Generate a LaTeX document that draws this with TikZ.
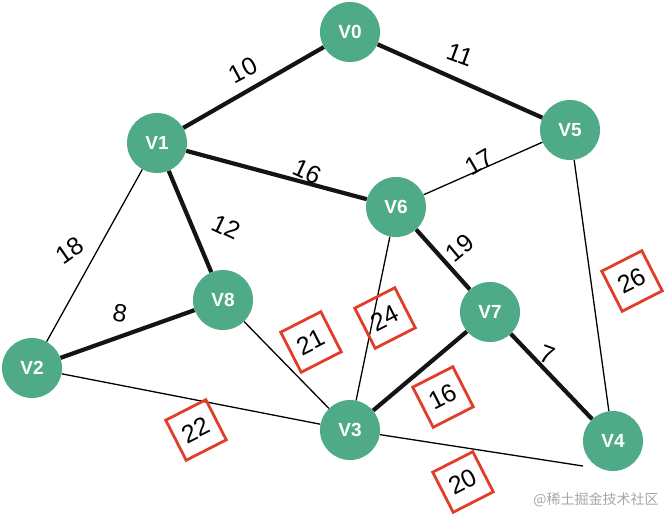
\documentclass[tikz,border=0pt]{standalone}
\usepackage{fontspec}
\usetikzlibrary{backgrounds}
\setmainfont{Liberation Sans}
\newfontfamily\cjkfont{Noto Sans CJK SC}
\definecolor{vgreen}{RGB}{78,170,135}
\definecolor{boxred}{RGB}{224,62,42}
\tikzset{
  vtx/.style={circle, fill=vgreen, minimum size=60pt, inner sep=0pt, text=white, font=\fontsize{19}{19}\selectfont\bfseries},
  thickedge/.style={line width=4.2pt, black!92},
  thinedge/.style={line width=1.3pt, black},
  wlabel/.style={font=\fontsize{25}{25}\selectfont, inner sep=0pt},
  wbox/.style={draw=boxred, line width=2.8pt, minimum size=45pt, inner sep=0pt, rotate=27, font=\fontsize{25}{25}\selectfont}
}
\begin{document}
\begin{tikzpicture}[x=1pt,y=-1pt]
\useasboundingbox (0,0) rectangle (671,523);
\node[vtx] (V0) at (350,32) {V0};
\node[vtx] (V1) at (157,143) {V1};
\node[vtx] (V5) at (570,130) {V5};
\node[vtx] (V6) at (396,207) {V6};
\node[vtx] (V8) at (223,300) {V8};
\node[vtx] (V7) at (490,312) {V7};
\node[vtx] (V2) at (32,368) {V2};
\node[vtx] (V3) at (350,430) {V3};
\node[vtx] (V4) at (613,441) {V4};
\coordinate (V4end) at (583,466);
\begin{pgfonlayer}{background}
% thin edges
\draw[thinedge] (V1) -- (V2);
\draw[thinedge] (V5) -- (V6);
\draw[thinedge] (V5) -- (V4);
\draw[thinedge] (V6) -- (V3);
\draw[thinedge] (V8) -- (V3);
\draw[thinedge] (V2) -- (V3);
\draw[thinedge] (V3) -- (V4end);
% thick edges
\draw[thickedge] (V0) -- (V1);
\draw[thickedge] (V0) -- (V5);
\draw[thickedge] (V1) -- (V6);
\draw[thickedge] (V1) -- (V8);
\draw[thickedge] (V6) -- (V7);
\draw[thickedge] (V8) -- (V2);
\draw[thickedge] (V7) -- (V3);
\draw[thickedge] (V7) -- (V4);
\end{pgfonlayer}
% weight labels
\node[wlabel, rotate=28] (l10) at (243,70) {10};
\node[wlabel, rotate=-20] (l11) at (460,55) {11};
\node[wlabel, rotate=-25] (l16a) at (307,172) {16};
\node[wlabel, rotate=-25] (l12) at (226,227) {12};
\node[wlabel, rotate=35] (l18) at (70,250) {18};
\node[wlabel, rotate=30] (l17) at (479,162) {17};
\node[wlabel, rotate=40] (l19) at (460,248) {19};
\node[wlabel, rotate=-10] (l8) at (120,313) {8};
\node[wlabel, rotate=-20] (l7) at (547,355) {7};
% boxed labels
\node[wbox] (b22) at (196,430) {22};
\node[wbox] (b21) at (311,342) {21};
\node[wbox] (b24) at (385,318) {24};
\node[wbox] (b16) at (443,397) {16};
\node[wbox] (b26) at (632,281) {26};
\node[wbox] (b20) at (463,482) {20};
% watermark
\node[text=black!35, font=\cjkfont\fontsize{14}{14}\selectfont, inner sep=0pt] (wm) at (596,500) {@稀土掘金技术社区};
\end{tikzpicture}
\end{document}
